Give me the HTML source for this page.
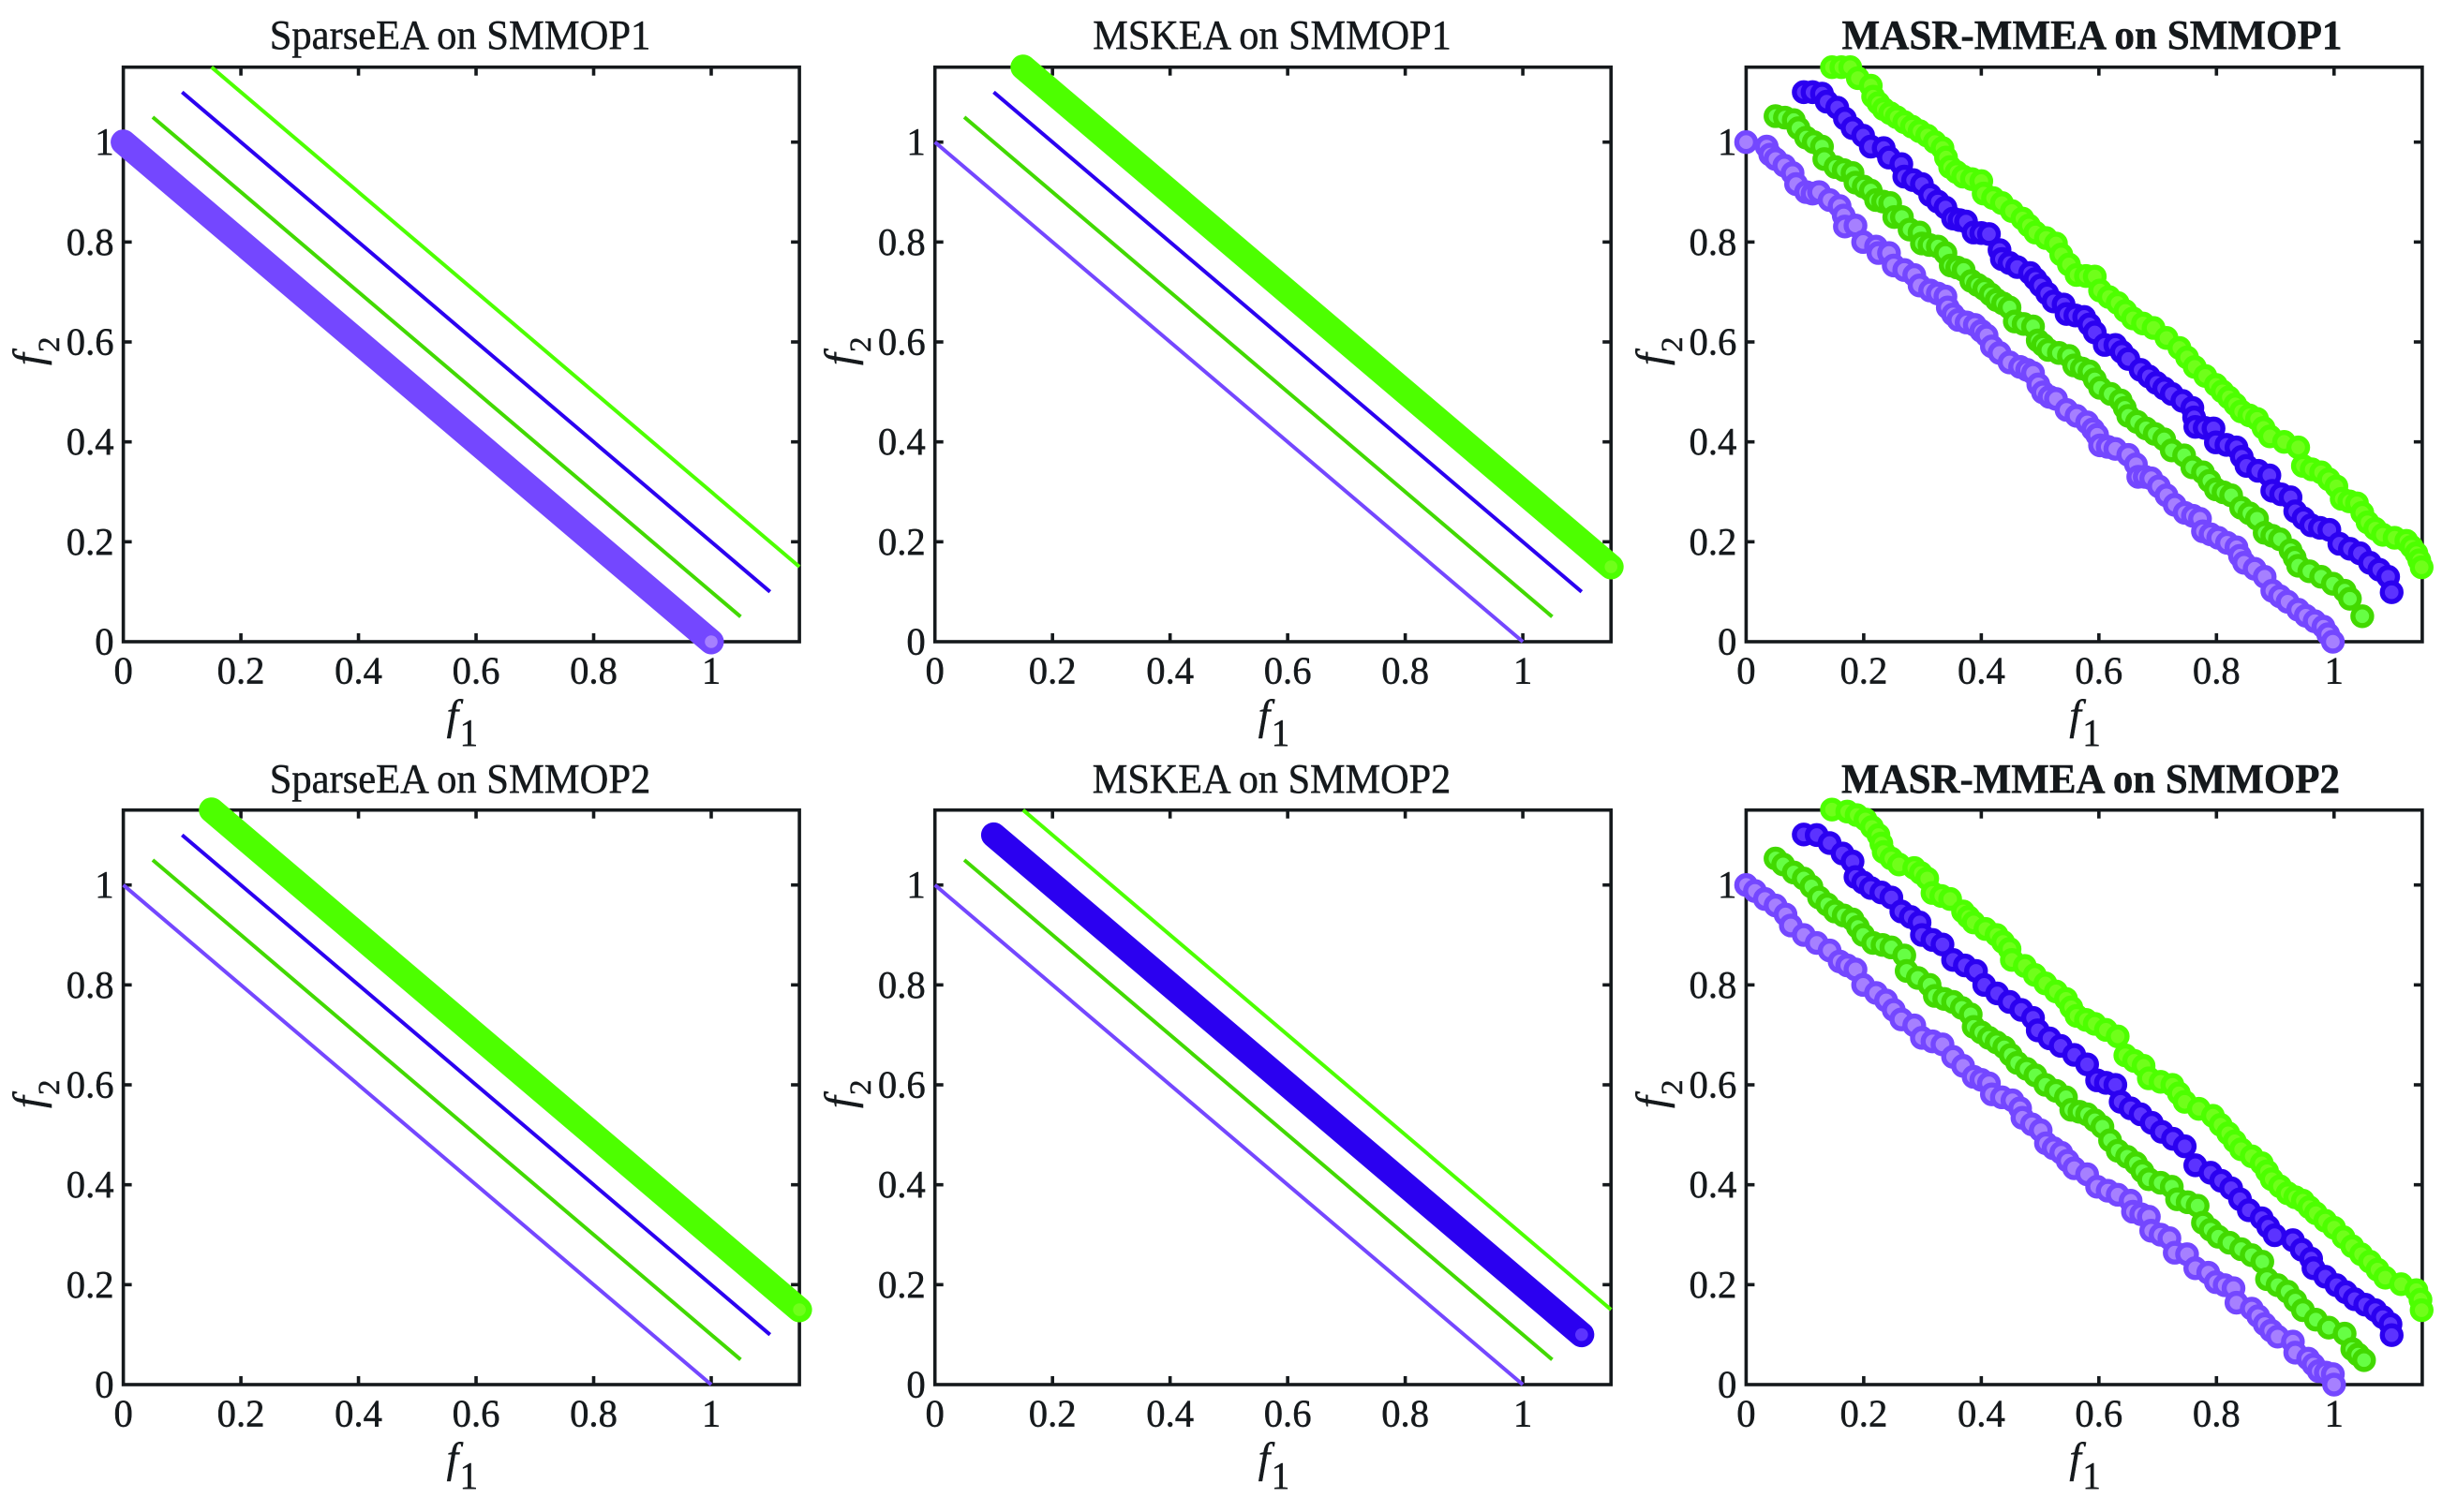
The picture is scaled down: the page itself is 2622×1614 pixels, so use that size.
<!DOCTYPE html>
<html lang="en">
<head>
<meta charset="utf-8">
<title>Pareto fronts on SMMOP1 and SMMOP2</title>
<style>
html,body{margin:0;padding:0;background:#fff;}
svg{display:block;}
text{font-family:"Liberation Serif",serif;fill:#15191c;stroke:#15191c;stroke-width:.5px;}
</style>
</head>
<body>
<svg id="chart" width="2622" height="1614" viewBox="0 0 2622 1614" xmlns="http://www.w3.org/2000/svg"></svg>
<script>
const xTicks=[0,0.2,0.4,0.6,0.8,1];
const yTicks=[0,0.2,0.4,0.6,0.8,1];
const xTickLabels=["0","0.2","0.4","0.6","0.8","1"];
const yTickLabels=["0","0.2","0.4","0.6","0.8","1"];
const axisMax=1.15;
const panelTitles=["SparseEA on SMMOP1","MSKEA on SMMOP1","MASR-MMEA on SMMOP1","SparseEA on SMMOP2","MSKEA on SMMOP2","MASR-MMEA on SMMOP2"];

const front1F1=[0,1];
const front1F2=[1,0];
const front2F1=[0.05,1.05];
const front2F2=[1.05,0.05];
const front3F1=[0.1,1.1];
const front3F2=[1.1,0.1];
const front4F1=[0.15,1.15];
const front4F2=[1.15,0.15];

const m1Purple=[[0,1],[.035,.991],[.041,.975],[.05,.966],[.065,.953],[.079,.938],[.085,.916],[.102,.9],[.113,.897],[.124,.9],[.142,.884],[.159,.872],[.166,.853],[.168,.831],[.186,.833],[.199,.8],[.221,.791],[.225,.778],[.243,.778],[.251,.753],[.269,.744],[.286,.734],[.295,.713],[.313,.703],[.326,.697],[.339,.691],[.343,.669],[.352,.655],[.361,.644],[.375,.639],[.389,.634],[.4,.622],[.409,.613],[.418,.591],[.431,.578],[.448,.559],[.466,.55],[.478,.544],[.488,.538],[.497,.515],[.505,.499],[.516,.49],[.527,.486],[.545,.464],[.562,.452],[.58,.439],[.59,.425],[.597,.414],[.602,.393],[.615,.39],[.628,.386],[.65,.374],[.663,.355],[.667,.33],[.678,.33],[.689,.327],[.702,.311],[.715,.293],[.729,.274],[.746,.258],[.76,.252],[.772,.246],[.777,.221],[.79,.215],[.803,.208],[.818,.198],[.834,.189],[.84,.172],[.847,.158],[.865,.146],[.882,.13],[.895,.102],[.908,.091],[.921,.08],[.939,.064],[.952,.052],[.967,.041],[.982,.03],[.99,.015],[.998,0]];
const m1Green=[[.05,1.052],[.066,1.049],[.081,1.044],[.089,1.028],[.102,1.009],[.115,1],[.129,.991],[.133,.966],[.152,.95],[.166,.944],[.181,.938],[.186,.919],[.2,.911],[.212,.903],[.221,.884],[.233,.881],[.245,.878],[.252,.85],[.265,.85],[.278,.825],[.295,.819],[.299,.797],[.312,.794],[.326,.791],[.339,.778],[.348,.753],[.359,.749],[.37,.744],[.383,.722],[.394,.714],[.405,.706],[.416,.695],[.426,.684],[.437,.677],[.448,.669],[.457,.641],[.472,.636],[.488,.631],[.496,.603],[.505,.594],[.514,.584],[.532,.578],[.549,.572],[.558,.553],[.571,.547],[.584,.541],[.593,.525],[.602,.508],[.62,.496],[.637,.483],[.644,.468],[.65,.452],[.665,.44],[.68,.427],[.695,.416],[.711,.405],[.724,.383],[.745,.373],[.759,.349],[.777,.339],[.788,.322],[.799,.305],[.812,.299],[.825,.293],[.842,.268],[.856,.257],[.869,.246],[.882,.218],[.895,.212],[.908,.205],[.926,.183],[.933,.168],[.939,.152],[.958,.141],[.978,.13],[.998,.116],[1.018,.102],[1.027,.086],[1.048,.051]];
const m1Blue=[[.098,1.1],[.113,1.1],[.129,1.097],[.137,1.081],[.155,1.069],[.168,1.047],[.181,1.028],[.199,1.013],[.212,.991],[.234,.988],[.243,.969],[.264,.956],[.269,.931],[.284,.924],[.299,.916],[.313,.894],[.326,.881],[.339,.869],[.352,.847],[.363,.844],[.374,.841],[.387,.819],[.4,.818],[.413,.816],[.431,.784],[.435,.766],[.448,.758],[.461,.75],[.483,.738],[.492,.726],[.501,.713],[.512,.697],[.523,.681],[.54,.675],[.545,.656],[.56,.653],[.575,.65],[.584,.635],[.593,.619],[.61,.594],[.628,.594],[.639,.58],[.65,.566],[.671,.544],[.685,.531],[.698,.518],[.711,.507],[.724,.496],[.742,.482],[.759,.468],[.762,.449],[.764,.43],[.78,.428],[.795,.427],[.799,.399],[.817,.394],[.834,.389],[.843,.37],[.851,.352],[.871,.342],[.89,.333],[.895,.302],[.91,.295],[.926,.289],[.934,.261],[.948,.247],[.961,.233],[.976,.228],[.992,.224],[1.009,.196],[1.027,.186],[1.044,.177],[1.061,.158],[1.077,.144],[1.092,.13],[1.098,.099]];
const m1Lime=[[.146,1.15],[.162,1.15],[.177,1.15],[.19,1.128],[.212,1.113],[.216,1.091],[.225,1.078],[.234,1.066],[.245,1.058],[.256,1.05],[.269,1.04],[.282,1.031],[.295,1.022],[.308,1.013],[.321,1],[.334,.988],[.34,.969],[.347,.95],[.358,.94],[.369,.931],[.384,.926],[.4,.922],[.404,.897],[.42,.888],[.435,.878],[.452,.862],[.47,.847],[.481,.833],[.492,.819],[.51,.808],[.527,.797],[.536,.775],[.549,.755],[.562,.734],[.578,.732],[.593,.731],[.602,.703],[.617,.69],[.632,.678],[.645,.662],[.658,.647],[.675,.637],[.693,.628],[.715,.608],[.737,.588],[.75,.569],[.763,.55],[.781,.532],[.799,.514],[.81,.501],[.821,.489],[.832,.475],[.842,.461],[.856,.453],[.869,.446],[.88,.428],[.891,.411],[.915,.4],[.939,.389],[.947,.352],[.962,.345],[.978,.339],[.991,.325],[1.004,.311],[1.013,.286],[1.026,.281],[1.039,.277],[1.048,.258],[1.057,.239],[1.07,.226],[1.083,.214],[1.103,.208],[1.123,.202],[1.132,.19],[1.14,.177],[1.145,.163],[1.149,.149]];

const m2Purple=[[0,1],[.015,.988],[.032,.972],[.05,.959],[.067,.941],[.076,.919],[.098,.9],[.12,.884],[.142,.869],[.159,.847],[.172,.839],[.186,.831],[.199,.8],[.221,.784],[.238,.769],[.251,.75],[.264,.731],[.286,.719],[.299,.694],[.317,.687],[.334,.681],[.352,.656],[.369,.638],[.387,.616],[.4,.61],[.413,.603],[.418,.581],[.435,.575],[.453,.569],[.466,.553],[.47,.534],[.486,.521],[.501,.509],[.51,.483],[.523,.473],[.536,.464],[.547,.448],[.558,.433],[.58,.421],[.597,.396],[.615,.388],[.632,.38],[.654,.368],[.658,.346],[.672,.341],[.685,.336],[.689,.308],[.705,.3],[.72,.293],[.729,.264],[.75,.261],[.764,.233],[.786,.224],[.799,.205],[.814,.199],[.829,.193],[.834,.164],[.86,.152],[.871,.137],[.882,.121],[.893,.108],[.904,.096],[.93,.086],[.934,.064],[.956,.052],[.965,.04],[.974,.027],[.986,.024],[.998,.021],[1,0]];
const m2Green=[[.05,1.053],[.063,1.041],[.081,1.025],[.098,1.013],[.111,.997],[.124,.975],[.138,.961],[.151,.947],[.166,.939],[.181,.931],[.19,.916],[.199,.9],[.216,.884],[.232,.88],[.247,.875],[.269,.859],[.273,.828],[.292,.814],[.312,.8],[.321,.778],[.337,.772],[.352,.766],[.367,.754],[.382,.741],[.387,.716],[.4,.705],[.413,.694],[.426,.685],[.439,.675],[.45,.66],[.461,.644],[.477,.632],[.492,.619],[.509,.6],[.527,.588],[.544,.575],[.553,.55],[.567,.546],[.58,.541],[.593,.529],[.606,.516],[.619,.489],[.632,.468],[.648,.456],[.663,.443],[.674,.427],[.685,.411],[.705,.404],[.724,.396],[.733,.371],[.751,.365],[.768,.358],[.777,.324],[.79,.31],[.803,.296],[.822,.284],[.842,.271],[.86,.259],[.878,.246],[.886,.211],[.904,.199],[.921,.186],[.934,.168],[.947,.149],[.969,.13],[.991,.114],[1.018,.102],[1.031,.071],[1.041,.06],[1.051,.049]];
const m2Blue=[[.098,1.101],[.12,1.1],[.142,1.084],[.164,1.063],[.181,1.047],[.186,1.016],[.199,1.005],[.212,.994],[.23,.985],[.247,.975],[.264,.947],[.28,.936],[.295,.925],[.299,.9],[.317,.89],[.334,.881],[.352,.85],[.372,.839],[.391,.828],[.405,.8],[.427,.783],[.448,.766],[.468,.75],[.488,.734],[.496,.709],[.516,.693],[.535,.678],[.558,.66],[.58,.641],[.597,.609],[.612,.604],[.628,.6],[.637,.566],[.654,.553],[.671,.541],[.69,.524],[.707,.506],[.726,.492],[.746,.477],[.764,.439],[.79,.424],[.808,.408],[.825,.393],[.84,.371],[.855,.349],[.877,.333],[.888,.316],[.899,.299],[.93,.289],[.945,.27],[.961,.252],[.965,.233],[.985,.216],[1.004,.199],[1.02,.185],[1.035,.171],[1.053,.16],[1.07,.149],[1.083,.135],[1.096,.121],[1.098,.099]];
const m2Lime=[[.146,1.151],[.172,1.147],[.188,1.14],[.203,1.131],[.214,1.116],[.225,1.1],[.23,1.083],[.234,1.066],[.247,1.053],[.26,1.041],[.286,1.034],[.297,1.024],[.308,1.013],[.317,.984],[.332,.978],[.347,.972],[.369,.947],[.378,.936],[.387,.925],[.407,.912],[.426,.9],[.437,.886],[.448,.872],[.452,.85],[.474,.838],[.491,.82],[.509,.803],[.527,.787],[.544,.772],[.553,.755],[.562,.738],[.578,.73],[.593,.722],[.612,.71],[.632,.697],[.645,.659],[.66,.648],[.676,.638],[.685,.613],[.705,.606],[.725,.6],[.736,.583],[.746,.566],[.77,.552],[.794,.538],[.807,.52],[.82,.503],[.831,.487],[.842,.471],[.86,.457],[.877,.443],[.886,.427],[.894,.411],[.908,.397],[.921,.383],[.934,.375],[.947,.368],[.958,.355],[.969,.343],[.985,.328],[1,.314],[1.016,.295],[1.031,.277],[1.046,.261],[1.061,.246],[1.074,.23],[1.087,.214],[1.114,.201],[1.14,.189],[1.147,.17],[1.149,.149]];

const NS="http://www.w3.org/2000/svg";
const root=document.getElementById("chart");
const inkColor="#15191c";
const seriesNames=["purple","green","blue","lime"];
const edgeColors=["#7447ff","#42d900","#2b00f0","#4dff00"];
const fillColors=["#a680ff","#66ff44","#5c33ff","#70ff1a"];
const frontsF1=[front1F1,front2F1,front3F1,front4F1];
const frontsF2=[front1F2,front2F2,front3F2,front4F2];
const scatter1=[m1Purple,m1Green,m1Blue,m1Lime];
const scatter2=[m2Purple,m2Green,m2Blue,m2Lime];

const panelLeft=[131.6,997.7,1863.4];
const panelTop=[71.7,864.7];
const plotW=721.5;
const plotH=613.3;
const titleCenter=[491,1357.5,2232.5,491,1357,2231];
const titleScale=[0.967,0.96,0.98,0.967,0.96,0.976];
const titleBaseline=[52,846];
const fatSeries=[0,3,-1,3,2,-1];

function mk(tag,parent,props){
  const el=document.createElementNS(NS,tag);
  for(const k in props){el.setAttribute(k,props[k]);}
  parent.appendChild(el);
  return el;
}
function txt(parent,content,x,y,size,sx,anchor,style){
  const el=mk("text",parent,{transform:"translate("+x+" "+y+") scale("+sx+" 1)","font-size":size,"text-anchor":anchor});
  if(style==="bold"){el.setAttribute("font-weight","bold");}
  if(style==="italic"){el.setAttribute("font-style","italic");}
  el.textContent=content;
  return el;
}

function drawPanel(i){
  const col=i%3,row=Math.floor(i/3);
  const L=panelLeft[col],T=panelTop[row],B=T+plotH,R=L+plotW;
  const sx=v=>L+v/axisMax*plotW;
  const sy=v=>B-v/axisMax*plotH;
  const g=mk("g",root,{});
  
  

  const t=txt(g,panelTitles[i],titleCenter[i],titleBaseline[row],44,titleScale[i],"middle",col===2?"bold":"");
  
  

  const frame=mk("rect",g,{x:L,y:T,width:plotW,height:plotH,fill:"none",stroke:inkColor,"stroke-width":3.6});
  
  

  xTicks.forEach((v,k)=>{
    if(v>0){
      const a=mk("line",g,{x1:sx(v),x2:sx(v),y1:B,y2:B-9,stroke:inkColor,"stroke-width":3.6});
      
      
      const b=mk("line",g,{x1:sx(v),x2:sx(v),y1:T,y2:T+9,stroke:inkColor,"stroke-width":3.6});
      
      
    }
    const lab=txt(g,xTickLabels[k],sx(v),B+44.3,41.5,0.98,"middle");
    
    
  });
  yTicks.forEach((v,k)=>{
    if(v>0){
      const a=mk("line",g,{x1:L,x2:L+9,y1:sy(v),y2:sy(v),stroke:inkColor,"stroke-width":3.6});
      
      
      const b=mk("line",g,{x1:R,x2:R-9,y1:sy(v),y2:sy(v),stroke:inkColor,"stroke-width":3.6});
      
      
    }
    const lab=txt(g,yTickLabels[k],L-10,sy(v)+13.5,41.5,0.98,"end");
    
    
  });

  const xl=mk("g",g,{});
  
  
  txt(xl,"f",L+345,B+93.5,45,1,"start","italic");
  txt(xl,"1",L+359,B+111,41,0.95,"start");

  const yl=mk("g",g,{transform:"translate("+(L-86)+" "+(T+318.3)+") rotate(-90)"});
  
  
  txt(yl,"f",0,0,46,1,"start","italic");
  txt(yl,"2",14,17.5,33,1,"start");

  if(col===2){
    const sets=row===0?scatter1:scatter2;
    sets.forEach((arr,s)=>{
      const sg=mk("g",g,{});
      
      
      arr.forEach(p=>{
        const c=mk("circle",sg,{cx:sx(p[0]),cy:sy(p[1]),r:10,fill:fillColors[s],stroke:edgeColors[s],"stroke-width":5.4});
        
        
      });
    });
  }else{
    frontsF1.forEach((arr,s)=>{
      const fat=fatSeries[i]===s;
      const pts=arr.map((v,n)=>sx(v)+","+sy(frontsF2[s][n])).join(" ");
      const p=mk("polyline",g,{points:pts,fill:"none",stroke:edgeColors[s],"stroke-width":fat?27:4,"stroke-linecap":fat?"round":"butt"});
      
      
      if(fat){
        const last=arr.length-1;
        const c=mk("circle",g,{cx:sx(arr[last]),cy:sy(frontsF2[s][last]),r:9.2,fill:fillColors[s],stroke:edgeColors[s],"stroke-width":4.8});
        
        
      }
    });
  }
}
for(let i=0;i<6;i++){drawPanel(i);}
</script>
</body>
</html>
